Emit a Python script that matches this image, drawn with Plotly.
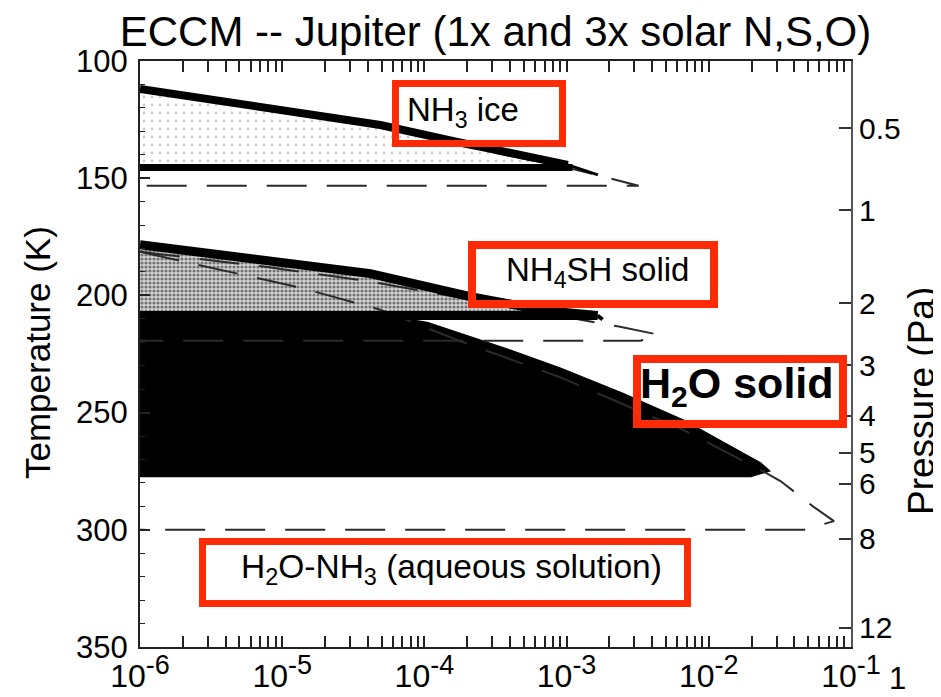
import plotly.graph_objects as go

# ---------------- data ----------------
# x = mixing ratio (log axis), T = temperature (K)
nh3_1x_top_x = [1.0e-6, 4.9e-5, 1.7e-4, 1.02e-3]
nh3_1x_top_T = [111.9, 127.3, 134.5, 144.3]
nh3_1x_tail_x = [1.02e-3, 1.66e-3]
nh3_1x_tail_T = [144.3, 148.6]
nh3_1x_base_x = [1.0e-6, 1.1e-3]
nh3_1x_base_T = [145.4, 145.4]

nh3_3x_x = [1.0e-6, 4.9e-5, 1.7e-4, 1.02e-3, 1.73e-3, 2.21e-3, 3.21e-3, 1.0e-6]
nh3_3x_T = [112.4, 128.1, 135.8, 145.6, 149.0, 150.7, 153.2, 153.2]

nh4sh_1x_top_x = [1.0e-6, 4.17e-5, 2.11e-4, 7.11e-4, 1.65e-3]
nh4sh_1x_top_T = [178.4, 190.7, 200.5, 206.5, 208.6]
nh4sh_1x_tail_x = [1.65e-3, 1.79e-3]
nh4sh_1x_tail_T = [208.6, 210.3]
nh4sh_1x_base_x = [1.0e-6, 1.65e-3]
nh4sh_1x_base_T = [208.6, 208.6]

nh4sh_3x_x = [1.0e-6, 7.35e-6, 4.17e-5, 2.11e-4, 9.08e-4, 2.33e-3, 4.37e-3, 3.32e-3, 1.0e-6]
nh4sh_3x_T = [181.4, 187.7, 194.1, 201.8, 208.6, 213.3, 216.7, 219.3, 219.3]

h2o_1x_x = [1.0e-6, 4.17e-5, 1.05e-4, 4.04e-4, 9.08e-4, 2.5e-3, 6.67e-3, 2.32e-2, 2.74e-2,
            1.98e-2, 1.0e-6]
h2o_1x_T = [206.9, 207.3, 211.2, 223.1, 230.8, 241.5, 252.9, 271.2, 275.0, 277.6, 277.6]

h2o_3x_x = [1.0e-6, 1.34e-5, 4.9e-5, 1.88e-4, 9.08e-4, 6.67e-3, 2.32e-2, 3.21e-2,
            5.40e-2, 7.59e-2, 4.67e-2, 1.0e-6]
h2o_3x_T = [181.4, 196.7, 206.1, 220.0, 235.0, 257.5, 274.5, 279.3,
            290.0, 296.3, 300.0, 300.0]

x_tick_vals = [1e-6, 1e-5, 1e-4, 1e-3, 1e-2, 1e-1]
x_tick_exps = ["-6", "-5", "-4", "-3", "-2", "-1"]
temp_ticks = [100, 150, 200, 250, 300, 350]
pressure_labels = ["0.5", "1", "2", "3", "4", "5", "6", "8", "12"]
pressure_tick_T = [128.6, 163.7, 203.4, 229.9, 251.3, 267.1, 280.3, 303.8, 341.8]

title_text = "ECCM -- Jupiter (1x and 3x solar N,S,O)"

# ---------------- layout helpers ----------------
# the page body has an 8px margin, so the figure is drawn 8px smaller and
# all reference pixel positions are shifted by that offset.
OFF = 8
W, H = 941 - OFF, 697 - OFF
PL, PR, PT, PB = 140, 851, 61, 647          # plot area in reference pixels
L, T = PL - OFF, PT - OFF
R, B = W - (PR - OFF), H - (PB - OFF)
PW, PH = PR - PL, PB - PT


def px(x):
    return (x - PL) / PW


def py(y):
    return (PB - y) / PH


FONT = "Liberation Sans, Arial, Helvetica, sans-serif"
RED = "#ff2a06"
DASH = "40px,20px"

fig = go.Figure()

# fills
fig.add_trace(go.Scatter(
    x=nh3_1x_top_x + nh3_1x_base_x[::-1], y=nh3_1x_top_T + nh3_1x_base_T[::-1],
    fill="toself", mode="none", fillcolor="rgba(0,0,0,0)",
    fillpattern=dict(shape=".", fgcolor="#999999", bgcolor="white", size=8, solidity=0.1),
    hoverinfo="skip"))
fig.add_trace(go.Scatter(
    x=nh4sh_1x_top_x + nh4sh_1x_base_x[::-1], y=nh4sh_1x_top_T + nh4sh_1x_base_T[::-1],
    fill="toself", mode="none", fillcolor="rgba(0,0,0,0)",
    fillpattern=dict(shape=".", fgcolor="#111111", bgcolor="#d4d4d4", size=4, solidity=0.5),
    hoverinfo="skip"))
fig.add_trace(go.Scatter(
    x=h2o_1x_x, y=h2o_1x_T, fill="toself", mode="none", fillcolor="black",
    hoverinfo="skip"))

# 3x solar (dashed)
for xs, ts in [(nh3_3x_x, nh3_3x_T), (nh4sh_3x_x, nh4sh_3x_T), (h2o_3x_x, h2o_3x_T)]:
    fig.add_trace(go.Scatter(x=xs, y=ts, mode="lines",
                             line=dict(color="#2a2a2a", width=2, dash=DASH),
                             hoverinfo="skip"))

# 1x solar (solid, heavy)
for xs, ts, w in [(nh3_1x_top_x, nh3_1x_top_T, 8), (nh3_1x_base_x, nh3_1x_base_T, 7),
                  (nh3_1x_tail_x, nh3_1x_tail_T, 3),
                  (nh4sh_1x_top_x, nh4sh_1x_top_T, 9), (nh4sh_1x_base_x, nh4sh_1x_base_T, 9),
                  (nh4sh_1x_tail_x, nh4sh_1x_tail_T, 4)]:
    fig.add_trace(go.Scatter(x=xs, y=ts, mode="lines",
                             line=dict(color="black", width=w),
                             hoverinfo="skip"))

# invisible trace to anchor the right-hand pressure axis
fig.add_trace(go.Scatter(x=[nh3_1x_top_x[0]], y=[pressure_tick_T[0]], yaxis="y2",
                         mode="markers", marker=dict(opacity=0), hoverinfo="skip"))

# red label boxes (reference pixel coordinates of the border centre lines)
boxes = [
    (395.5, 83.5, 562.5, 143.5, 7),
    (472, 245, 714, 304, 8),
    (637, 359, 843, 424, 8),
    (202.5, 541.5, 687.5, 603.5, 7),
]
for x0, y0, x1, y1, w in boxes:
    fig.add_shape(type="rect", xref="paper", yref="paper",
                  x0=px(x0), x1=px(x1), y0=py(y1), y1=py(y0),
                  line=dict(color=RED, width=w), fillcolor="rgba(0,0,0,0)", layer="above")

labels = [
    ("NH<sub>3</sub> ice", 463, 112, 33),
    ("NH<sub>4</sub>SH solid", 597, 272, 33),
    ("<b>H<sub>2</sub>O solid</b>", 737, 386, 43),
    ("H<sub>2</sub>O-NH<sub>3</sub> (aqueous solution)", 451, 569, 33.5),
]
for txt, cx, cy, fs in labels:
    fig.add_annotation(text=txt, xref="paper", yref="paper", x=px(cx), y=py(cy),
                       xanchor="center", yanchor="middle", showarrow=False,
                       font=dict(family=FONT, size=fs, color="black"))

# axis titles
fig.add_annotation(text="Temperature (K)", xref="paper", yref="paper",
                   x=px(37), y=py(353), textangle=-90, showarrow=False,
                   xanchor="center", yanchor="middle",
                   font=dict(family=FONT, size=35, color="black"))
fig.add_annotation(text="Pressure (Pa)", xref="paper", yref="paper",
                   x=px(921), y=py(401), textangle=-90, showarrow=False,
                   xanchor="center", yanchor="middle",
                   font=dict(family=FONT, size=37, color="black"))
# clipped neighbouring tick label at bottom right
fig.add_annotation(text="1", xref="paper", yref="paper", x=px(887), y=py(678),
                   xanchor="left", yanchor="middle", showarrow=False,
                   font=dict(family=FONT, size=31, color="black"))

x_tick_text = ["10<sup><span style='font-size:27px'>%s</span></sup>" % e for e in x_tick_exps]
x_minor_vals = [m * v for v in x_tick_vals[:-1] for m in range(2, 10)]

fig.update_layout(
    width=W, height=H,
    margin=dict(l=L, r=R, t=T, b=B, autoexpand=False),
    paper_bgcolor="white", plot_bgcolor="white",
    showlegend=False, hovermode=False,
    title=dict(text=title_text, x=0.5, xref="paper", xanchor="center",
               y=1 - (31 - OFF) / H, yref="container", yanchor="middle", automargin=False,
               font=dict(family=FONT, size=42, color="black")),
    font=dict(family=FONT, color="black"),
    xaxis=dict(type="log", range=[-6, -1], tickvals=x_tick_vals, ticktext=x_tick_text,
               automargin=False,
               showgrid=False, zeroline=False, showline=True, linecolor="#222",
               linewidth=2, mirror="allticks", ticks="inside", ticklen=11,
               tickwidth=1.5, tickcolor="#222",
               minor=dict(tickvals=x_minor_vals, ticks="inside", ticklen=7, tickwidth=1.5,
                          tickcolor="#222", showgrid=False),
               tickfont=dict(family=FONT, size=32, color="black")),
    yaxis=dict(range=[350, 100], tickvals=temp_ticks, showgrid=False, zeroline=False,
               automargin=False,
               showline=True, linecolor="#222", linewidth=2, ticks="inside",
               ticklen=10, tickwidth=1.5, tickcolor="#222",
               minor=dict(ticks="inside", ticklen=5, tickwidth=1, dtick=10,
                          tickcolor="#222", showgrid=False),
               ticklabelstandoff=4,
               tickfont=dict(family=FONT, size=31, color="black")),
    yaxis2=dict(overlaying="y", side="right", range=[350, 100], automargin=False,
                tickvals=pressure_tick_T, ticktext=pressure_labels,
                showgrid=False, zeroline=False, showline=True, linecolor="#555",
                linewidth=2, ticks="inside", ticklen=12, tickwidth=1.5,
                tickcolor="#333",
                tickfont=dict(family=FONT, size=30, color="black")),
)

fig.write_html("out.html")
